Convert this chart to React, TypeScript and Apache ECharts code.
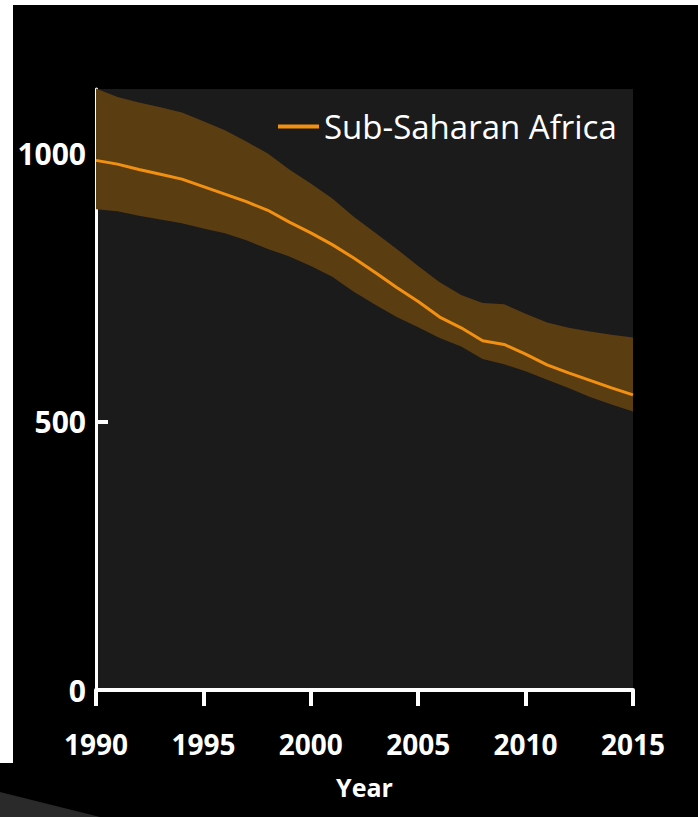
import React, { useEffect, useRef } from "react";
import * as echarts from "echarts";

const years = [
  "1990", "1991", "1992", "1993", "1994", "1995", "1996", "1997", "1998", "1999",
  "2000", "2001", "2002", "2003", "2004", "2005", "2006", "2007", "2008", "2009",
  "2010", "2011", "2012", "2013", "2014", "2015",
];
const central = [
  987, 980, 970, 961, 952, 938, 924, 910, 894, 872,
  852, 830, 805, 778, 750, 724, 695, 675, 651, 644,
  626, 606, 591, 577, 563, 550,
];
const upper = [
  1121, 1105, 1095, 1086, 1076, 1060, 1043, 1022, 1000, 970,
  944, 916, 882, 852, 822, 790, 760, 736, 721, 719,
  701, 685, 675, 668, 662, 657,
];
const lower = [
  896, 892, 884, 877, 870, 860, 851, 838, 822, 808,
  790, 770, 742, 718, 695, 676, 656, 640, 617, 607,
  594, 578, 563, 546, 532, 519,
];
const yLabels = [0, 500, 1000];
const yTicks = [500, 1000];
const seriesName = "Sub-Saharan Africa";
const xName = "Year";

const FONT = "'Open Sans', 'Noto Sans', sans-serif";

export default function App() {
  const ref = useRef<HTMLDivElement>(null);
  useEffect(() => {
    document.body.style.margin = "0";
    document.body.style.background = "#000";
    const chart = echarts.init(ref.current!, null, { renderer: "svg" });
    const bandWidth = upper.map((u, i) => u - lower[i]);
    chart.setOption({
      animation: false,
      backgroundColor: "#000000",
      textStyle: { fontFamily: FONT },
      graphic: [
        { type: "rect", shape: { x: 0, y: 0, width: 698, height: 5 }, style: { fill: "#ffffff" }, silent: true },
        { type: "rect", shape: { x: 0, y: 0, width: 13, height: 763 }, style: { fill: "#ffffff" }, silent: true },
        {
          type: "polygon",
          shape: { points: [[0, 792], [100, 817], [0, 817]] },
          style: { fill: "#2a2a2a" },
          silent: true,
        },
      ],
      grid: {
        left: 96,
        right: 65,
        top: 89,
        bottom: 127,
        show: true,
        backgroundColor: "#1b1b1b",
        borderWidth: 0,
      },
      legend: {
        data: [seriesName],
        left: 273,
        top: 105,
        icon: "rect",
        itemWidth: 41,
        itemHeight: 4,
        itemGap: 8,
        textStyle: { color: "#ffffff", fontSize: 33, fontFamily: FONT },
      },
      xAxis: {
        type: "category",
        data: years,
        boundaryGap: false,
        name: xName,
        nameLocation: "middle",
        nameGap: 84,
        nameTextStyle: { color: "#ffffff", fontSize: 25, fontWeight: "bold", fontFamily: FONT },
        axisLine: { show: true, lineStyle: { color: "#ffffff", width: 4 } },
        axisTick: { show: true, interval: 4, length: 16, lineStyle: { color: "#ffffff", width: 4 } },
        axisLabel: {
          interval: 4,
          color: "#ffffff",
          fontSize: 28,
          fontWeight: "bold",
          fontFamily: FONT,
          margin: 40,
          lineHeight: 28,
        },
        splitLine: { show: false },
      },
      yAxis: {
        type: "value",
        min: 0,
        max: 1120,
        interval: 500,
        axisLine: { show: true, lineStyle: { color: "#ffffff", width: 3 } },
        axisTick: {
          show: true,
          inside: true,
          length: 12,
          customValues: yTicks,
          lineStyle: { color: "#ffffff", width: 4 },
        },
        axisLabel: {
          customValues: yLabels,
          formatter: (v: number) => String(v),
          color: "#ffffff",
          fontSize: 30,
          fontWeight: "bold",
          fontFamily: FONT,
          margin: 10,
        },
        splitLine: { show: false },
      },
      series: [
        {
          name: "lower",
          type: "line",
          data: lower,
          stack: "band",
          symbol: "none",
          lineStyle: { opacity: 0 },
          silent: true,
        },
        {
          name: "band",
          type: "line",
          data: bandWidth,
          stack: "band",
          symbol: "none",
          lineStyle: { opacity: 0 },
          areaStyle: { color: "#5b3d12", opacity: 1 },
          silent: true,
        },
        {
          name: seriesName,
          type: "line",
          data: central,
          symbol: "none",
          color: "#f29111",
          lineStyle: { color: "#f29111", width: 3 },
        },
      ],
    });
    return () => chart.dispose();
  }, []);
  return (
    <div
      ref={ref}
      style={{ position: "fixed", left: 0, top: 0, width: 698, height: 817, background: "#000" }}
    />
  );
}
